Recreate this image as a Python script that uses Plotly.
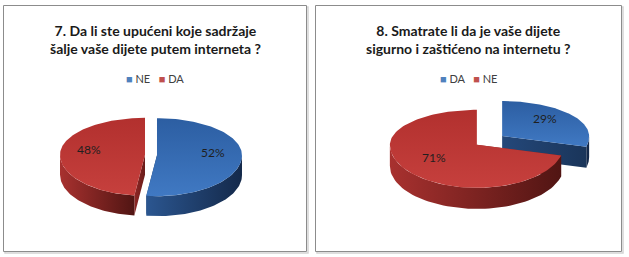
import numpy as np
import plotly.graph_objects as go

# ---------------- data ----------------
titles = [
    "7. Da li ste upućeni koje sadržaje<br>šalje vaše dijete putem interneta ?",
    "8. Smatrate li da je vaše dijete<br>sigurno i zaštićeno na internetu ?",
]
q7_labels = ["NE", "DA"]
q7_values = [52, 48]
q8_labels = ["DA", "NE"]
q8_values = [29, 71]

# ---------------- style ----------------
W, H = 629, 257
FONT = "Lato, 'Open Sans', 'Liberation Sans', sans-serif"
TOP = [("#4079C3", "#2C5EA2"), ("#C6403D", "#B2302E")]      # top-face gradient per series
SIDE = [("#2B5690", "#14294A"), ("#A8312F", "#511513")]     # outer side gradient per series
RADIAL = [("#24487A", "#1A355A"), ("#8E2725", "#6A1C1A")]
SWATCH = ["#4F81BD", "#C0504D"]

charts = [
    dict(labels=q7_labels, values=q7_values, title=titles[0], panel=(3.5, 306.5),
         cx=151, cy=155, a=85, bf=37, bn=41, depth=20, explode=6, lab_r=0.66),
    dict(labels=q8_labels, values=q8_values, title=titles[1], panel=(315.5, 621.5),
         cx=489.5, cy=140, a=87, bf=35, bn=43, depth=21, explode=16, lab_r=0.62),
]


def arc(cx, cy, th, a, bf, bn):
    r = np.radians(th)
    c = np.cos(r)
    b = np.where(c > 0, bf, bn)
    return cx + a * np.sin(r), cy - b * c


def poly(fig, xs, ys, c0, c1, gtype):
    fig.add_trace(go.Scatter(
        x=list(xs) + [xs[0]], y=list(ys) + [ys[0]], mode="lines", fill="toself",
        line=dict(width=0, color=c1),
        fillgradient=dict(type=gtype, colorscale=[[0, c0], [1, c1]]),
        hoverinfo="skip", showlegend=False))


fig = go.Figure()
annotations = []
shapes = []

for ch in charts:
    p0, p1 = ch["panel"]
    # panel frame with shadow
    shapes.append(dict(type="rect", xref="x", yref="y", x0=p0 + 1.5, x1=p1 + 1.5, y0=7, y1=253,
                       line=dict(color="#d4d4d4", width=1.5), fillcolor="rgba(0,0,0,0)", layer="below"))
    shapes.append(dict(type="rect", xref="x", yref="y", x0=p0, x1=p1, y0=5.5, y1=251.5,
                       line=dict(color="#8c8c8c", width=1), fillcolor="white", layer="below"))
    pc = (p0 + p1) / 2
    annotations.append(dict(x=pc, y=39, xref="x", yref="y", text="<b>" + ch["title"] + "</b>",
                            showarrow=False, font=dict(family=FONT, size=14, color="#1a1a1a"),
                            align="center", yanchor="middle"))
    leg = "   ".join(
        f'<span style="color:{SWATCH[i]}">■</span> {lab}' for i, lab in enumerate(ch["labels"]))
    annotations.append(dict(x=pc, y=78, xref="x", yref="y", text=leg, showarrow=False,
                            font=dict(family=FONT, size=11, color="#404040"), yanchor="middle"))

    a, bf, bn, d = ch["a"], ch["bf"], ch["bn"], ch["depth"]
    total = float(sum(ch["values"]))
    start = 0.0
    slices = []
    for i, (lab, v) in enumerate(zip(ch["labels"], ch["values"])):
        th1, th2 = start, start + v / total * 360
        start = th2
        mid = np.radians((th1 + th2) / 2)
        bm = bf if np.cos(mid) > 0 else bn
        sx = ch["cx"] + ch["explode"] * np.sin(mid)
        sy = ch["cy"] - ch["explode"] * np.cos(mid) * bm / a
        slices.append(dict(i=i, th1=th1, th2=th2, cx=sx, cy=sy, v=v, mid=mid))

    for s in sorted(slices, key=lambda s: s["cy"]):
        i, cx, cy = s["i"], s["cx"], s["cy"]
        # radial faces
        for th in (s["th1"], s["th2"]):
            px, py = arc(cx, cy, th, a, bf, bn)
            poly(fig, [cx, float(px), float(px), cx], [cy, float(py), float(py) + d, cy + d],
                 RADIAL[i][0], RADIAL[i][1], "horizontal")
        # outer side (near half only)
        lo, hi = max(s["th1"], 90), min(s["th2"], 270)
        if hi > lo:
            ts = np.linspace(lo, hi, 60)
            xs, ys = arc(cx, cy, ts, a, bf, bn)
            poly(fig, np.concatenate([xs, xs[::-1]]), np.concatenate([ys, ys[::-1] + d]),
                 SIDE[i][0] if s["th2"] > 180 else SIDE[i][1], SIDE[i][1], "horizontal")
        # top face
        ts = np.linspace(s["th1"], s["th2"], 120)
        xs, ys = arc(cx, cy, ts, a, bf, bn)
        poly(fig, np.concatenate([[cx], xs]), np.concatenate([[cy], ys]),
             TOP[i][0], TOP[i][1], "vertical")
        # percentage label
        bm = bf if np.cos(s["mid"]) > 0 else bn
        lx = cx + ch["lab_r"] * a * np.sin(s["mid"])
        ly = cy - ch["lab_r"] * bm * np.cos(s["mid"]) - 4
        annotations.append(dict(x=lx, y=ly, xref="x", yref="y",
                                text=f"{round(s['v'] / total * 100)}%", showarrow=False,
                                font=dict(family=FONT, size=12, color="#1f1f1f")))

fig.update_layout(
    width=W, height=H, margin=dict(l=0, r=0, t=0, b=0),
    paper_bgcolor="white", plot_bgcolor="white",
    xaxis=dict(range=[0, W], visible=False, fixedrange=True),
    yaxis=dict(range=[H, 0], visible=False, fixedrange=True),
    shapes=shapes, annotations=annotations, showlegend=False,
)
fig.write_html("out.html")
